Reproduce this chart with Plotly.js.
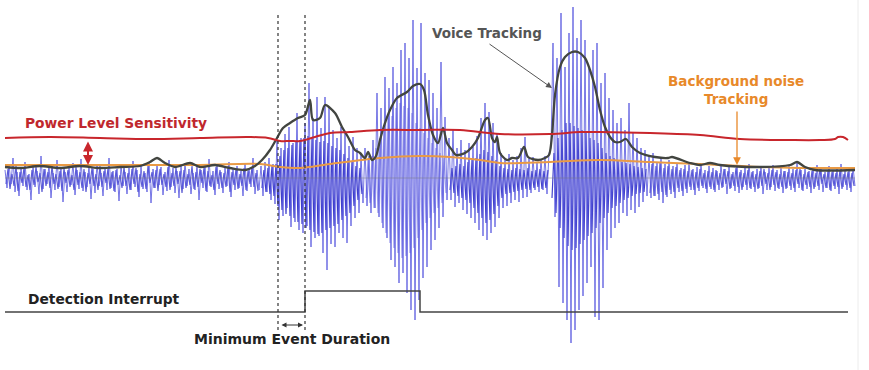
<!DOCTYPE html>
<html>
<head>
<meta charset="utf-8">
<script src="https://cdn.plot.ly/plotly-3.0.1.min.js"></script>
<style>html,body{margin:0;padding:0;background:#fff;}#chart{width:869px;height:370px;}</style>
</head>
<body>
<div id="chart"></div>
<script>
// ---- Waveform samples (amplitude, baseline = 0, sample period 2) ----
const waveStartX = [5, 261, 365, 449, 551, 649];
const noiseLeft = [
  8,-10,14,-6,20,-14,6,-18,10,-8,
  16,-12,4,-22,12,-9,7,-16,22,-11,
  9,-6,13,-20,5,-12,18,-9,11,-24,
  6,-14,10,-7,15,-17,8,-11,19,-13,
  6,-9,12,-21,9,-15,14,-8,5,-18,
  11,-12,20,-10,7,-14,9,-23,13,-8,
  6,-16,10,-12,17,-9,8,-19,12,-11,
  5,-14,16,-25,9,-10,13,-7,11,-17,
  6,-13,18,-9,10,-15,7,-20,12,-11,
  15,-8,9,-16,5,-12,14,-22,8,-10,
  11,-14,19,-9,7,-17,13,-11,6,-15,
  10,-8,16,-19,9,-12,12,-10,7,-18,
  14,-13,10,-9,20,-16,8,-12
];
const burst1 = [
  12,-18,16,-14,20,-22,14,-26,38,-42,
  30,-38,44,-30,51,-49,35,-44,65,-52,
  40,-55,55,-48,95,-69,60,-60,81,-58,
  50,-75,81,-92,71,-66,48,-69,40,-55,
  51,-60,45,-65,32,-48,41,-40,30,-35,
  24,-25
];
const burst2 = [
  30,-28,22,-35,38,-30,85,-39,70,-50,
  101,-60,90,-82,111,-89,95,-105,128,-95,
  135,-115,120,-132,158,-142,110,-122,155,-100,
  105,-89,98,-72,85,-62,70,-50,116,-39,
  61,-22
];
const midSection = [
  40,-22,48,-29,30,-25,38,-32,28,-36,
  35,-40,31,-45,42,-52,60,-58,75,-62,
  66,-55,55,-49,45,-40,25,-30,20,-28,
  24,-25,18,-22,22,-24,30,-20,41,-19,
  20,-15,21,-12,16,-14,19,-12,22,-16,
  25
];
const burst3 = [
  30,135,-39,120,-109,165,-125,111,-142,145,
  -165,171,-152,140,-132,158,-118,138,-105,110,
  -89,128,-139,135,-142,95,-110,105,-72,80,
  -60,68,-50,55,-45,60,-35,48,-38,75,
  -32,45,-35,40,-29,30,-24,28,-18
];
const noiseRight = [
  22,-20,25,-18,16,-22,20,-25,14,-19,
  18,-16,12,-20,15,-14,10,-18,13,-15,
  16,-12,9,-17,11,-13,14,-10,8,-15,
  12,-11,10,-14,7,-12,13,-9,9,-16,
  11,-10,6,-13,12,-15,8,-9,10,-12,
  14,-11,7,-14,9,-10,12,-16,6,-12,
  10,-9,13,-13,8,-11,11,-15,7,-10,
  12,-12,9,-14,15,-10,8,-13,10,-11,
  7,-15,11,-9,13,-12,9,-14,6,-10,
  12,-13,8,-11,10,-16,14,-9,7,-12,
  9,-14,11,-8
];
const waveSegments = [noiseLeft, burst1, burst2, midSection, burst3, noiseRight];

// ---- Dense inner part of the waveform (samples in between) ----
const innerStartX = [6, 262, 366, 450, 552, 650];
const innerLeft = [
  -6,9,-11,4,-8,12,-13,6,-5,10,
  -9,3,-12,8,-7,11,-4,5,-14,9,
  -8,6,-10,12,-6,4,-11,7,-13,10,
  -5,8,-9,3,-12,11,-7,6,-10,9,
  -14,5,-6,10,-8,4,-12,12,-9,7,
  -5,9,-11,6,-13,8,-7,3,-10,11,
  -8,5,-12,9,-6,10,-14,4,-9,7,
  -11,12,-5,6,-10,8,-13,9,-7,4,
  -9,11,-12,5,-8,10,-6,7,-15,8,
  -10,4,-7,12,-11,6,-9,9,-5,10,
  -13,7,-8,3,-12,11,-6,8,-10,5,
  -9,12,-14,6,-7,9,-11,4,-8,10,
  -12,7,-6,11,-9,5,-13
];
const innerBurst1 = [
  -10,8,-14,10,-16,12,-18,14,
  -28,22,-32,28,-36,30,-38,
  33,-40,36,-44,38,-46,40,-50,42,-52,
  40,-54,38,-56,36,-55,37,-52,35,-50,
  32,-48,30,-46,28,-42,24,-38,20,-35,
  16,-28,12,-22,10,-16
];
const innerBurst2 = [
  -20,18,-25,22,-30,30,-35,40,-45,50,
  -55,60,-65,62,-70,70,-75,75,-80,72,
  -78,70,-75,65,-70,55,-60,50,-52,45,
  -45,40,-40,35,-35,30,-30,25,-25,20,
  -15
];
const innerMid = [
  -12,10,-15,12,-18,14,-20,12,-22,16,
  -25,18,-30,20,-35,24,-40,28,-45,26,
  -42,22,-36,18,-28,12,-20,10,-16,9,
  -15,8,-14,10,-13,9,-12,8,-11,10,
  -12,7,-10,8,-9,9,-11,7,-10,8
];
const innerBurst3 = [
  -20,25,-35,40,-50,48,-60,55,-68,55,
  -72,52,-70,50,-66,48,-62,45,-58,40,
  -55,38,-50,35,-45,30,-40,25,-35,22,
  -30,20,-28,18,-25,16,-22,15,-20,14,
  -18,12,-16,11,-15,10,-14,9
];
const innerRight = [
  -15,14,-18,12,-16,15,-14,10,-17,12,
  -12,9,-14,11,-10,8,-13,9,-11,7,
  -9,8,-12,6,-10,9,-8,5,-11,7,
  -9,6,-12,8,-7,5,-10,9,-6,7,
  -11,4,-8,10,-9,6,-12,5,-7,8,
  -10,6,-9,4,-11,7,-8,9,-6,5,
  -12,8,-7,6,-10,4,-9,7,-11,6,
  -8,5,-10,8,-6,9,-12,4,-7,6,
  -9,7,-11,5,-8,10,-6,4,-10,7,
  -12,6,-8,5,-9,8,-11,4,-7,6,
  -10,5,-8
];
const innerSegments = [innerLeft, innerBurst1, innerBurst2, innerMid, innerBurst3, innerRight];
const innerColors = ['rgba(55,55,200,0.8)', 'rgba(40,40,195,0.9)', 'rgba(120,120,230,0.75)',
                     'rgba(45,45,195,0.9)', 'rgba(45,45,195,0.9)', 'rgba(55,55,200,0.8)'];

// ---- Tracking lines ----
const redX = [5,50,100,150,200,250,268,280,290,300,315,330,350,380,420,460,500,550,580,600,650,700,740,790,820,835,838,843,848];
const redY = [40,41,40,39,40,41,40,37,37,37,41,45,46,48,48,48,44,44,46,46,45,43,39,38,38,39,41,41,38];
const orangeX = [5,100,200,260,280,300,330,380,420,450,480,500,550,600,650,700,760,800,855];
const orangeY = [13,13,13,14,11,10,14,20,22,21,18,15,16,18,16,14,11,10,10];
const voiceX = [5,20,40,60,80,100,120,140,150,157,165,175,190,200,215,230,245,255,262,270,
  277,283,290,298,305,310,313,320,325,335,342,348,355,360,365,368,372,376,380,384,
  390,397,407,413,420,424,428,433,438,443,447,452,456,465,472,478,485,488,492,495,
  497,500,507,512,518,524,528,538,545,549,552,555,560,565,572,578,585,590,595,600,
  605,610,615,620,626,632,640,655,668,672,690,700,710,720,760,790,797,805,815,855];
const voiceY = [11,10,12,10,12,10,11,12,16,20,15,11,15,11,13,10,8,12,18,28,
  40,50,55,60,63,78,58,60,73,65,51,41,28,25,20,26,18,22,38,52,
  68,80,86,92,94,88,63,43,35,50,35,28,23,25,31,40,58,60,40,36,
  41,25,18,20,20,31,21,18,20,23,43,83,111,121,126,126,120,108,91,68,
  51,41,36,36,39,31,25,21,20,21,15,13,15,13,11,13,16,11,8,8];
const interruptX = [5, 305, 420, 848];
const interruptY = [-134, -113, -134, -134];

// ---- Labels ----
const labelPower = "Power Level Sensitivity";
const labelVoice = "Voice Tracking";
const labelNoise = "Background noise<br>Tracking";
const labelInterrupt = "Detection Interrupt";
const labelMinEvent = "Minimum Event Duration";

function buildSeries(starts, segs) {
  const xs = [], ys = [];
  segs.forEach((seg, k) => seg.forEach((v, i) => { xs.push(starts[k] + 2 * i); ys.push(v); }));
  return {xs, ys};
}
const mainWave = buildSeries(waveStartX, waveSegments);

const traces = [];
innerSegments.forEach((seg, k) => {
  const s = buildSeries([innerStartX[k]], [seg]);
  traces.push({x: s.xs, y: s.ys, type: 'scatter', mode: 'lines',
    line: {color: innerColors[k], width: 1.2}, hoverinfo: 'skip'});
});
traces.push(
  {x: mainWave.xs, y: mainWave.ys, type: 'scatter', mode: 'lines',
   line: {color: 'rgba(85,85,222,0.8)', width: 1}},
  {x: orangeX, y: orangeY, type: 'scatter', mode: 'lines',
   line: {color: '#e99a45', width: 2, shape: 'spline'}},
  {x: voiceX, y: voiceY, type: 'scatter', mode: 'lines',
   line: {color: '#424540', width: 2.3, shape: 'spline', smoothing: 0.8}},
  {x: redX, y: redY, type: 'scatter', mode: 'lines',
   line: {color: '#c8262c', width: 2, shape: 'spline'}},
  {x: interruptX, y: interruptY, type: 'scatter', mode: 'lines',
   line: {color: '#444444', width: 1.5, shape: 'hv'}}
);

const fontFam = '"DejaVu Sans", Verdana, sans-serif';
const layout = {
  width: 869, height: 370,
  margin: {l: 0, r: 0, t: 0, b: 0},
  paper_bgcolor: '#ffffff', plot_bgcolor: '#ffffff',
  showlegend: false,
  xaxis: {range: [0, 869], visible: false, fixedrange: true},
  yaxis: {range: [-192, 178], visible: false, fixedrange: true},
  shapes: [
    {type: 'line', x0: 5, x1: 855, y0: 0, y1: 0, line: {color: 'rgba(120,120,120,0.6)', width: 0.8}},
    {type: 'line', x0: 278, x1: 278, y0: 163, y1: -154, line: {color: '#333', width: 1.2, dash: 'dot'}},
    {type: 'line', x0: 305, x1: 305, y0: 163, y1: -154, line: {color: '#333', width: 1.2, dash: 'dot'}},
    {type: 'line', x0: 858, x1: 858, y0: 178, y1: -192, line: {color: '#ececec', width: 1}}
  ],
  annotations: [
    {x: 116, y: 55, text: '<b>' + labelPower + '</b>', showarrow: false,
     font: {family: fontFam, size: 13.8, color: '#c0282d'}},
    {x: 487, y: 145, text: '<b>' + labelVoice + '</b>', showarrow: false,
     font: {family: fontFam, size: 13.5, color: '#555555'}},
    {x: 736, y: 88, text: '<b>' + labelNoise + '</b>', showarrow: false,
     font: {family: fontFam, size: 13.5, color: '#e8892a'}},
    {x: 26, y: -121, xanchor: 'left', text: '<b>' + labelInterrupt + '</b>', showarrow: false,
     font: {family: fontFam, size: 13.8, color: '#222222'}},
    {x: 192, y: -161, xanchor: 'left', text: '<b>' + labelMinEvent + '</b>', showarrow: false,
     font: {family: fontFam, size: 14, color: '#222222'}},
    // arrows
    {x: 88, y: 13, ax: 88, ay: 38, axref: 'x', ayref: 'y', text: '', showarrow: true,
     arrowhead: 2, arrowside: 'end+start', arrowsize: 1, arrowwidth: 2, arrowcolor: '#c8262c'},
    {x: 552, y: 90, ax: 488, ay: 135, axref: 'x', ayref: 'y', text: '', showarrow: true,
     arrowhead: 2, arrowsize: 1.2, arrowwidth: 1, arrowcolor: '#555555'},
    {x: 737, y: 13, ax: 737, ay: 68, axref: 'x', ayref: 'y', text: '', showarrow: true,
     arrowhead: 2, arrowsize: 1.2, arrowwidth: 1.3, arrowcolor: '#e8892a'},
    {x: 303, y: -147, ax: 280, ay: -147, axref: 'x', ayref: 'y', text: '', showarrow: true,
     arrowhead: 2, arrowside: 'end+start', arrowsize: 1, arrowwidth: 1, arrowcolor: '#333333'}
  ]
};

Plotly.newPlot('chart', traces, layout, {staticPlot: true, displayModeBar: false});
</script>
</body>
</html>
